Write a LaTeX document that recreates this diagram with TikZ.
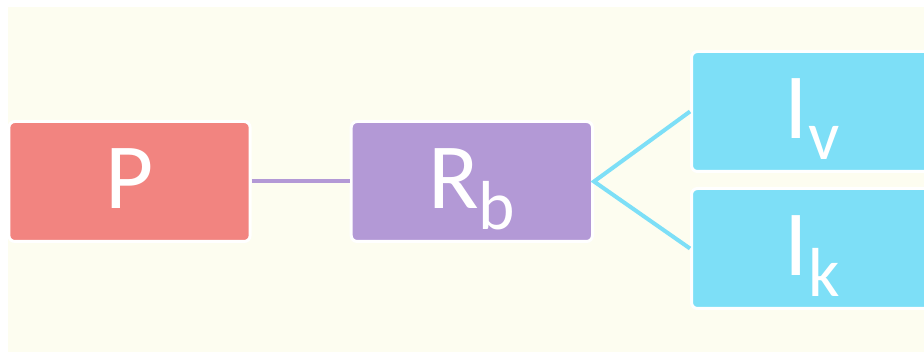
\documentclass[tikz,border=0pt]{standalone}
\usepackage{fontspec}
\setmainfont{Carlito}
\usetikzlibrary{positioning}
\definecolor{bgyellow}{HTML}{FDFDF0}
\definecolor{pred}{HTML}{F28480}
\definecolor{rpurple}{HTML}{B399D6}
\definecolor{icyan}{HTML}{7DDFF7}
\newcommand{\lowsub}[1]{\raisebox{-16pt}{\fontsize{52}{52}\selectfont #1}}
\tikzset{box/.style = {draw=white, line width=2.25pt, rounded corners=4.5pt, minimum width=181pt, minimum height=90pt, text=white, font=\fontsize{70}{70}\selectfont, text height=45pt, text depth=5pt},
         pbox/.style = {box, fill=pred},
         rbox/.style = {box, fill=rpurple},
         ibox/.style = {box, fill=icyan},
         link/.style = {line width=3pt},
}

\begin{document}
\begin{tikzpicture}[x=0.75pt, y=-0.75pt, node distance = 73.5pt]

  \fill[bgyellow] (8,7) rectangle (924,352);
  \useasboundingbox (0,0) rectangle (924,352);

  \node[pbox] (P) at (129.5,181.5) {P};
  \node[rbox, right = of P] (Rb) {R\lowsub{b}};
  \node[ibox, above right = -39.75pt and 72pt of Rb] (Iv) {I\lowsub{v}};
  \node[ibox, below = 10.5pt of Iv] (Ik) {I\lowsub{k}};

  \draw[link, rpurple] (P) -- (Rb);
  \draw[link, icyan] (Iv.west) -- (Rb.east) -- (Ik.west);

\end{tikzpicture}
\end{document}
